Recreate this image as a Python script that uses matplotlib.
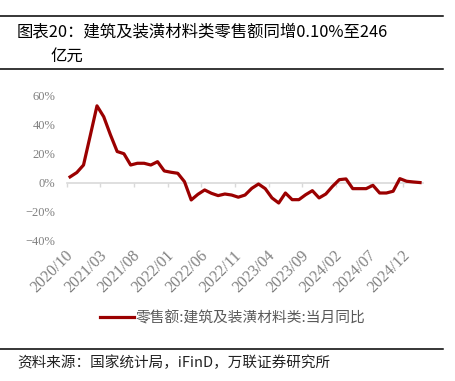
import numpy as np
import pandas as pd
import matplotlib
matplotlib.use("Agg")
import matplotlib.pyplot as plt
import matplotlib.transforms as mtransforms
from matplotlib.lines import Line2D

plt.rcParams['font.family'] = ['Noto Sans CJK SC', 'DejaVu Sans']

# monthly categories, 2020/10 .. 2025/02
months = list(pd.period_range('2020-10', '2025-02', freq='M').strftime('%Y/%m'))

# 零售额:建筑及装潢材料类:当月同比 (%)
yoy = [4.0, 7.0, 12.2, 32.5, 53.0, 45.5, 33.0, 21.5, 20.0, 12.2,
       13.4, 13.4, 12.2, 14.5, 8.1, 7.2, 6.5, 0.7, -11.9, -8.0,
       -5.0, -7.3, -8.9, -7.8, -8.5, -10.0, -8.5, -3.9, -0.9, -4.1,
       -10.5, -14.0, -7.1, -11.7, -11.7, -8.3, -5.5, -10.5, -7.8, -2.5,
       2.1, 2.6, -4.1, -4.1, -4.1, -1.8, -7.1, -7.1, -5.9, 2.8,
       1.0, 0.5, 0.1]

y_ticks = [-40, -20, 0, 20, 40, 60]
tick_labels = months[::5]

title_1 = "图表20：建筑及装潢材料类零售额同增0.10%至246"
title_2 = "亿元"
legend_label = "零售额:建筑及装潢材料类:当月同比"
source = "资料来源：国家统计局，iFinD，万联证券研究所"

red = '#9B0000'
grid_grey = '#d9d9d9'
text_grey = '#808080'

W, H = 455, 381
fig = plt.figure(figsize=(W / 100, H / 100), dpi=100)

# header / footer rules
for yy in (15.7, 69, 349):
    fig.add_artist(Line2D([0, 443 / W], [1 - yy / H] * 2, color='black', lw=1.1))

fig.text(17 / W, 1 - 32 / H, title_1, fontsize=11.8, va='center', ha='left')
fig.text(50 / W, 1 - 56 / H, title_2, fontsize=11.8, va='center', ha='left')
fig.text(17 / W, 1 - 363 / H, source, fontsize=10.5, va='center', ha='left',
         style='italic', color='#222222')

ax = fig.add_axes([66.7 / W, 1 - 240.7 / H, (423.4 - 66.7) / W, (240.7 - 95.7) / H])
x = np.arange(len(yoy)) + 0.5
line, = ax.plot(x, yoy, color=red, lw=2.3, zorder=3, label=legend_label)

ax.set_xlim(0, len(yoy))
ax.set_ylim(-40, 60)
for s in ('top', 'right', 'left'):
    ax.spines[s].set_visible(False)
ax.spines['bottom'].set_position(('data', 0))
ax.spines['bottom'].set_color(grid_grey)
ax.spines['bottom'].set_linewidth(1.2)

ticks = np.arange(0, len(yoy), 5)
ax.set_xticks(ticks)
ax.tick_params(axis='x', direction='out', length=3, width=1, color=grid_grey,
               labelbottom=False)

ax.set_yticks(y_ticks)
ax.set_yticklabels([f"{v}%".replace('-', '\u2212') for v in y_ticks],
                   family=['Liberation Serif'], fontsize=9, color=text_grey)
ax.tick_params(axis='y', length=0, pad=8)

sec = ax.secondary_xaxis('bottom')
sec.set_xticks(ticks)
sec.set_xticklabels(tick_labels, family=['Liberation Serif'], fontsize=11.5,
                    color=text_grey, rotation=45, ha='right',
                    rotation_mode='anchor', va='center')
sec.tick_params(length=0, pad=9)
sec.spines['bottom'].set_visible(False)
# nudge the rotated labels a little to the right, as in the source chart
shift = mtransforms.ScaledTranslation(4 / 100, 0, fig.dpi_scale_trans)
for lab in sec.get_xticklabels():
    lab.set_transform(lab.get_transform() + shift)

fig.legend(handles=[line], loc='center', bbox_to_anchor=(233 / W, 1 - 318 / H),
           frameon=False, fontsize=10.6, handlelength=2.3, handletextpad=0.1,
           labelcolor='#595959')

fig.savefig('out.png', dpi=100)
